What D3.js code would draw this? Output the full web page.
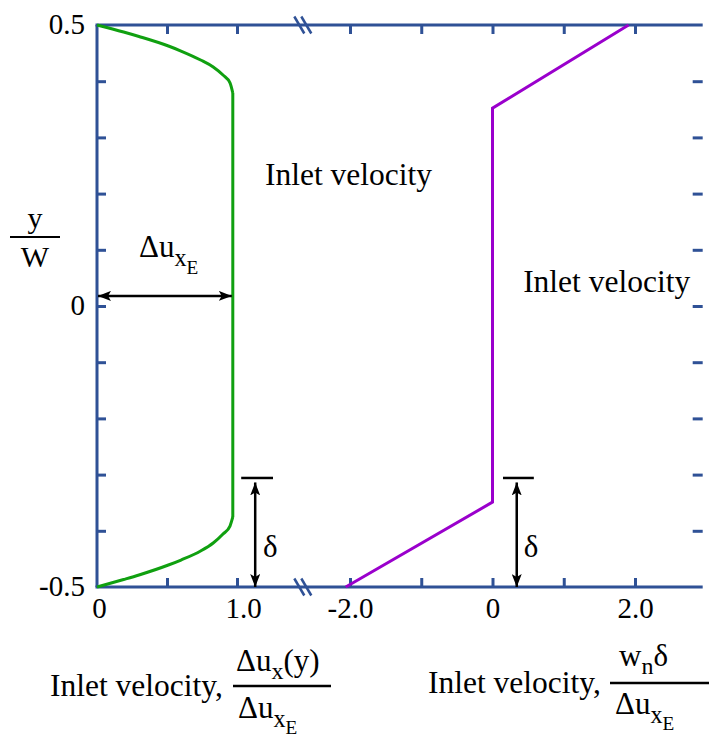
<!DOCTYPE html>
<html><head><meta charset="utf-8">
<script src="https://cdn.jsdelivr.net/npm/d3@7"></script>
<style>body{margin:0;background:#fff}svg text{font-family:'Liberation Serif','Times New Roman',Tinos,Times,'DejaVu Serif','Noto Serif',serif !important;fill:#000}</style>
</head><body><svg id="c" width="709" height="737"></svg>
<script>
// ---- data ----
const yTicks = [-0.4,-0.3,-0.2,-0.1,0,0.1,0.2,0.3,0.4];
const yTickLabels = [0.5, 0, -0.5];
const leftXTicks = [0.5, 1.0];
const leftXLabels = [0, 1.0];
const rightXTicks = [-2, -1, 0, 1, 2];
const rightXLabels = [-2, 0, 2];
// green: inlet velocity profile Δu_x(y)/Δu_xE vs y/W (top wall region, core, bottom wall region)
const greenTopU = [0, 0.19, 0.3, 0.51, 0.6, 0.74, 0.83, 0.9, 0.95, 0.97];
const greenTopY = [0.5, 0.4875, 0.4795, 0.4626, 0.4537, 0.4377, 0.4253, 0.411, 0.397, 0.379];
const greenCoreU = [0.97, 0.97];
const greenCoreY = [0.379, -0.3754];
const greenBotU = [0, 0.19, 0.3, 0.51, 0.6, 0.74, 0.83, 0.9, 0.95, 0.97];
const greenBotY = [-0.5, -0.4867, -0.4786, -0.4609, -0.452, -0.436, -0.4217, -0.4057, -0.3915, -0.3754];
// purple: w_n δ / Δu_xE vs y/W
const purpleW = [-2.06, 0, 0, 1.91];
const purpleY = [-0.5, -0.349, 0.352, 0.5];

const svg = d3.select("#c");
const FONT = "'Liberation Serif','Times New Roman',Tinos,Times,'DejaVu Serif',serif";
const blue = "#2f5196", green = "#10a010", purple = "#9a00cc";
const y = d3.scaleLinear().domain([-0.5, 0.5]).range([587, 25]);
const xL = d3.scaleLinear().domain([0, 1]).range([97, 237]);
const xR = d3.scaleLinear().domain([-2, 2]).range([350, 635]);
const xEnd = xR(2.95);
const breakU = 1.47;
const fmt = d => d === 0 ? "0" : d3.format(".1f")(d).replace("−", "-");

const g = svg.append("g");
g.append("line").attr("x1", xL(0)).attr("x2", xL(0)).attr("y1", y(0.5)).attr("y2", y(-0.5)).attr("stroke", blue).attr("stroke-width", 3);
[0.5, -0.5].forEach(v => g.append("line").attr("x1", xL(0)-1.5).attr("x2", xEnd).attr("y1", y(v)).attr("y2", y(v)).attr("stroke", blue).attr("stroke-width", 3));

function styleAxis(sel){
  sel.attr("font-family", FONT);
  sel.select(".domain").remove();
  sel.selectAll(".tick line").attr("stroke", blue).attr("stroke-width", 3);
  sel.selectAll(".tick text").attr("font-family", FONT).style("font-size", "29px").attr("fill", "#000");
}
g.append("g").attr("transform", `translate(${xL(0)},0)`)
  .call(d3.axisLeft(y).tickValues(yTicks).tickSizeInner(-9).tickSizeOuter(0).tickFormat("")).call(styleAxis);
g.append("g").attr("transform", `translate(${xL(0)},0)`)
  .call(d3.axisLeft(y).tickValues(yTickLabels).tickSize(0).tickPadding(12).tickFormat(fmt)).call(styleAxis)
  .selectAll(".tick text").attr("dy", "0.3em");
g.append("g").attr("transform", `translate(${xEnd},0)`)
  .call(d3.axisRight(y).tickValues(yTicks).tickSizeInner(-10).tickSizeOuter(0).tickFormat("")).call(styleAxis);
g.append("g").attr("transform", `translate(0,${y(0.5)})`)
  .call(d3.axisBottom(xL).tickValues(leftXTicks).tickSizeInner(9).tickSizeOuter(0).tickFormat("")).call(styleAxis);
g.append("g").attr("transform", `translate(0,${y(0.5)})`)
  .call(d3.axisBottom(xR).tickValues(rightXTicks).tickSizeInner(9).tickSizeOuter(0).tickFormat("")).call(styleAxis);
g.append("g").attr("transform", `translate(0,${y(-0.5)})`)
  .call(d3.axisTop(xL).tickValues(leftXTicks).tickSizeInner(9).tickSizeOuter(0).tickFormat("")).call(styleAxis);
g.append("g").attr("transform", `translate(0,${y(-0.5)})`)
  .call(d3.axisTop(xR).tickValues(rightXTicks).tickSizeInner(9).tickSizeOuter(0).tickFormat("")).call(styleAxis);
g.append("g").attr("transform", `translate(0,${y(-0.5)})`)
  .call(d3.axisBottom(xL).tickValues(leftXLabels).tickSize(0).tickPadding(10).tickFormat(fmt)).call(styleAxis)
  .selectAll(".tick text").attr("dx", d => d === 1 ? 6 : 2);
g.append("g").attr("transform", `translate(0,${y(-0.5)})`)
  .call(d3.axisBottom(xR).tickValues(rightXLabels).tickSize(0).tickPadding(10).tickFormat(fmt)).call(styleAxis);

// break marks
[0.5, -0.5].forEach(v => {
  [-3.5, 3.5].forEach(off => {
    g.append("line").attr("x1", xL(breakU)+off-5).attr("x2", xL(breakU)+off+5)
      .attr("y1", y(v)-8.5).attr("y2", y(v)+8.5).attr("stroke", blue).attr("stroke-width", 2.5);
  });
});

// curves
const gLineX = d3.line().x(d => xL(d[0])).y(d => y(d[1])).curve(d3.curveMonotoneX);
const gLineLin = d3.line().x(d => xL(d[0])).y(d => y(d[1]));
[[greenTopU, greenTopY, gLineX], [greenCoreU, greenCoreY, gLineLin], [greenBotU, greenBotY, gLineX]].forEach(([us, ys, ln]) => {
  svg.append("path").datum(us.map((u,i) => [u, ys[i]])).attr("d", ln)
    .attr("fill", "none").attr("stroke", green).attr("stroke-width", 3).attr("stroke-linejoin", "round");
});
const pLine = d3.line().x(d => xR(d[0])).y(d => y(d[1]));
svg.append("path").datum(purpleW.map((w,i) => [w, purpleY[i]])).attr("d", pLine)
  .attr("fill", "none").attr("stroke", purple).attr("stroke-width", 3);

// arrow markers
const defs = svg.append("defs");
defs.append("marker").attr("id", "ah").attr("viewBox", "0 0 13 10").attr("refX", 13).attr("refY", 5)
  .attr("markerWidth", 13).attr("markerHeight", 10).attr("markerUnits", "userSpaceOnUse").attr("orient", "auto-start-reverse")
  .append("path").attr("d", "M0,0 L13,5 L0,10 L3,5 Z").attr("fill", "#000");
function dblArrow(x1, y1, x2, y2){
  svg.append("line").attr("x1", x1).attr("y1", y1).attr("x2", x2).attr("y2", y2)
    .attr("stroke", "#000").attr("stroke-width", 2.5)
    .attr("marker-start", "url(#ah)").attr("marker-end", "url(#ah)");
}
function txt(x, yb, size){
  return svg.append("text").attr("x", x).attr("y", yb).attr("font-family", FONT).style("font-size", size + "px");
}
dblArrow(xL(0)+1, y(0.018), xL(0.97)-1, y(0.018));
function subLabel(x, yb, size){
  const t = txt(x, yb, size);
  t.append("tspan").text("Δu");
  t.append("tspan").attr("dy", size*0.28).style("font-size", (size*0.78)+"px").text("x");
  t.append("tspan").attr("dy", size*0.25).style("font-size", (size*0.62)+"px").text("E");
  return t;
}
subLabel(xL(0.3), y(0.087), 31);

function deltaMark(sc, x0, x1, xa, xt){
  svg.append("line").attr("x1", sc(x0)).attr("x2", sc(x1)).attr("y1", y(-0.306)).attr("y2", y(-0.306)).attr("stroke", "#000").attr("stroke-width", 2.5);
  dblArrow(sc(xa), y(-0.314), sc(xa), y(-0.5));
  txt(sc(xt), y(-0.447), 31).text("δ");
}
deltaMark(xL, 1.03, 1.257, 1.13, 1.186);
deltaMark(xR, 0.147, 0.58, 0.34, 0.44);

txt(xL(1.2), y(0.215), 31.5).text("Inlet velocity");
txt(xR(0.43), y(0.025), 31.5).text("Inlet velocity");

txt(35, 228, 30).attr("text-anchor", "middle").text("y");
svg.append("line").attr("x1", 10).attr("x2", 60).attr("y1", 237).attr("y2", 237).attr("stroke", "#000").attr("stroke-width", 2);
txt(35, 267, 30).attr("text-anchor", "middle").text("W");

txt(50, 696, 31.5).text("Inlet velocity,");
{
  const t = txt(236, 671, 31);
  t.append("tspan").text("Δu");
  t.append("tspan").attr("dy", 8).style("font-size", "24px").text("x");
  t.append("tspan").attr("dy", -8).text("(y)");
  svg.append("line").attr("x1", 233).attr("x2", 331).attr("y1", 686).attr("y2", 686).attr("stroke", "#000").attr("stroke-width", 2.5);
  subLabel(238, 718, 31);
}
txt(428, 693, 31.5).text("Inlet velocity,");
{
  const t = txt(619, 666, 31);
  t.append("tspan").text("w");
  t.append("tspan").attr("dy", 8).style("font-size", "24px").text("n");
  t.append("tspan").attr("dy", -8).text("δ");
  svg.append("line").attr("x1", 610).attr("x2", 709).attr("y1", 683).attr("y2", 683).attr("stroke", "#000").attr("stroke-width", 2.5);
  subLabel(615, 714, 31);
}
</script></body></html>
